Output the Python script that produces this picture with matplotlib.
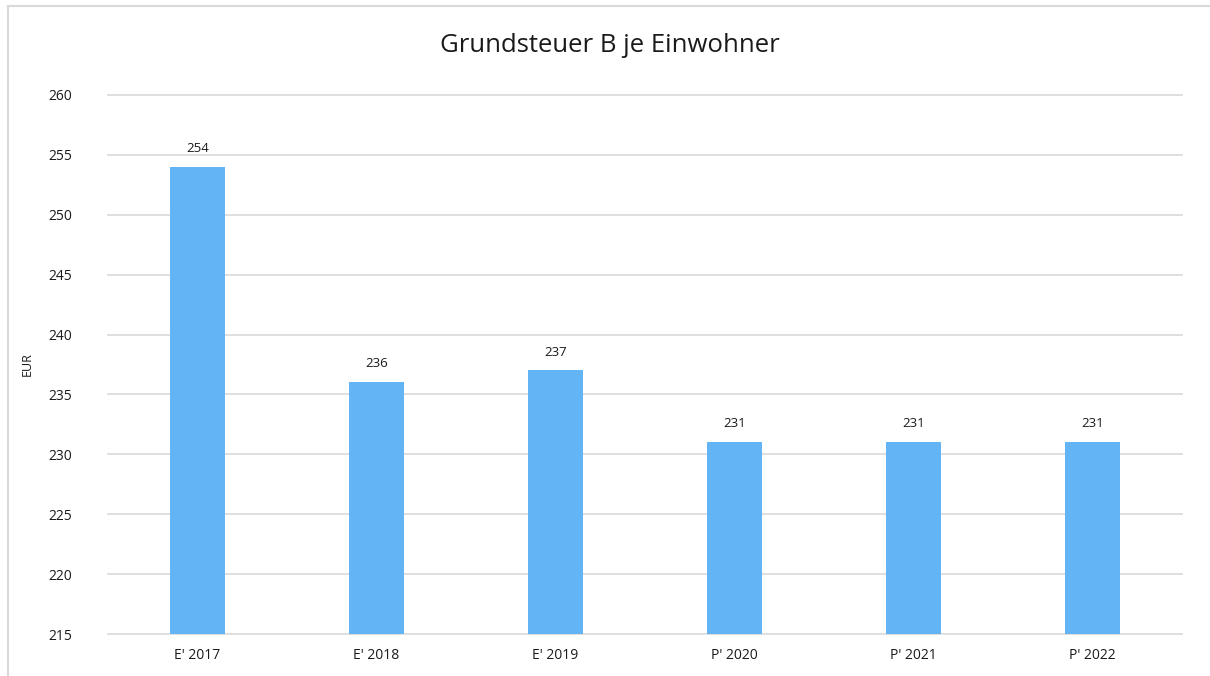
import matplotlib.pyplot as plt
from matplotlib.lines import Line2D

categories = ["E' 2017", "E' 2018", "E' 2019", "P' 2020", "P' 2021", "P' 2022"]
values = [254, 236, 237, 231, 231, 231]
yticks = [215, 220, 225, 230, 235, 240, 245, 250, 255, 260]

plt.rcParams['font.family'] = ['Open Sans', 'DejaVu Sans']

fig = plt.figure(figsize=(12.1, 6.76), dpi=100)
ax = fig.add_axes([108/1210, 1 - 634/676, (1182-108)/1210, (634-95)/676])

x = range(len(categories))
bars = ax.bar(x, [v - 215 for v in values], bottom=215, width=0.31, color='#63b4f5', zorder=3)
for xi, v in zip(x, values):
    ax.text(xi, v + 1.0, str(v), ha='center', va='bottom', fontsize=9.5, color='#1a1a1a')

ax.set_xlim(-0.5, len(categories) - 0.5)
ax.set_ylim(215, 260)
ax.set_yticks(yticks)
ax.set_xticks(list(x))
ax.set_xticklabels(categories)
ax.grid(axis='y', color='#d9d9d9', linewidth=1.2, zorder=0)
for gl in ax.get_ygridlines():
    gl.set_clip_on(False)
ax.tick_params(axis='both', length=0, labelsize=10, colors='#1a1a1a')
ax.tick_params(axis='y', pad=26)
ax.tick_params(axis='x', pad=10)
for s in ax.spines.values():
    s.set_visible(False)
ax.set_ylabel('EUR', fontsize=9, color='#1a1a1a', labelpad=10)

fig.text(610/1210, 1 - 46/676, 'Grundsteuer B je Einwohner', ha='center', va='center', fontsize=18.5, color='#1a1a1a')

# outer frame lines (top and left only visible)
fig.add_artist(Line2D([8/1210, 1], [1 - 6/676, 1 - 6/676], transform=fig.transFigure, color='#d9d9d9', linewidth=1.5))
fig.add_artist(Line2D([8/1210, 8/1210], [0, 1 - 6/676], transform=fig.transFigure, color='#d9d9d9', linewidth=1.5))

fig.savefig('out.png', dpi=100)
